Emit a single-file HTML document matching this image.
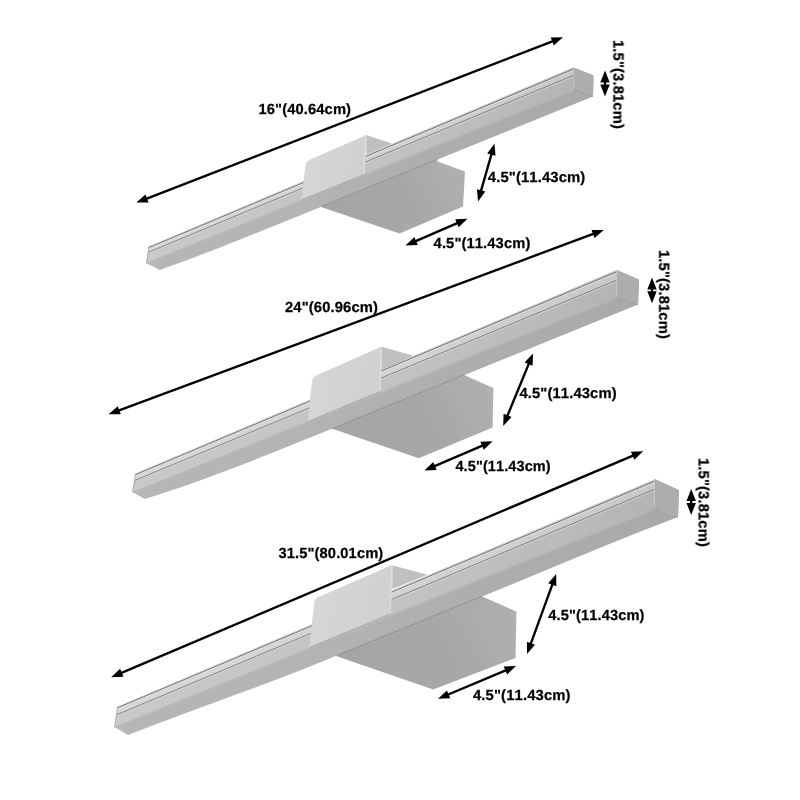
<!DOCTYPE html>
<html><head><meta charset="utf-8"><title>Dimensions</title>
<style>
html,body{margin:0;padding:0;background:#fff;}
body{width:800px;height:800px;overflow:hidden;}
svg{display:block;}
svg text{font-family:"Liberation Sans",Arial,Helvetica,sans-serif;font-weight:bold;fill:#000;stroke:#000;stroke-width:0.25px;font-kerning:none;text-rendering:geometricPrecision;}
#txt{opacity:0.999;}
</style></head><body>
<svg width="800" height="800" viewBox="0 0 800 800">
<defs><filter id="soft" x="-5%" y="-5%" width="110%" height="110%"><feGaussianBlur stdDeviation="0.45"/></filter></defs>
<rect width="800" height="800" fill="#fff"/>
<g id="lamp1" filter="url(#soft)">
<linearGradient id="bx0" gradientUnits="userSpaceOnUse" x1="341.0" y1="233.5" x2="465.0" y2="171.5"><stop offset="0" stop-color="#a5a5a5"/><stop offset="0.6" stop-color="#a8a8a8"/><stop offset="1" stop-color="#b0b0b0"/></linearGradient>
<polygon points="321.00,203.00 321.00,207.00 399.50,233.50 463.00,206.50 465.00,171.50 437.50,161.50 437.50,157.50" fill="url(#bx0)" />
<linearGradient id="gb0" gradientUnits="userSpaceOnUse" x1="148.9" y1="246.1" x2="573.5" y2="67.5"><stop offset="0" stop-color="#b6b6b6"/><stop offset="0.35" stop-color="#b3b3b3"/><stop offset="0.7" stop-color="#adadad"/><stop offset="1" stop-color="#a9a9a9"/></linearGradient>
<linearGradient id="gf0" gradientUnits="userSpaceOnUse" x1="148.9" y1="246.1" x2="573.5" y2="67.5"><stop offset="0" stop-color="#c9c9c9"/><stop offset="0.55" stop-color="#c2c2c2"/><stop offset="0.85" stop-color="#bababa"/><stop offset="1" stop-color="#b3b3b3"/></linearGradient>
<linearGradient id="gt0" gradientUnits="userSpaceOnUse" x1="148.9" y1="246.1" x2="573.5" y2="67.5"><stop offset="0" stop-color="#d8d8d8"/><stop offset="0.6" stop-color="#d2d2d2"/><stop offset="1" stop-color="#c8c8c8"/></linearGradient>
<path d="M146.25,263.00 L148.90,246.50 L573.50,67.50 L573.50,67.50 L593.50,75.50 L593.00,96.50 L381.20,182.42 Q240.00,239.70 224.00,245.94 L216.00,249.06 Q200.00,255.30 183.90,261.22 L159.75,270.10 Z" fill="url(#gb0)"/>
<polygon points="148.90,246.50 573.50,67.50 573.50,67.50 574.00,89.00 146.25,263.00" fill="url(#gf0)" />
<polygon points="146.25,263.00 574.00,89.00 574.00,91.00 146.75,264.60" fill="#bbbbbb" opacity="0.6"/>
<polyline points="322.00,206.14 436.50,159.69" fill="none" stroke="#8e8e8e" stroke-width="0.9" />
<polygon points="148.90,246.50 573.50,67.50 573.70,75.30 148.30,252.30" fill="url(#gt0)" />
<polyline points="148.70,247.70 573.60,69.10" fill="none" stroke="#707070" stroke-width="1.0" />
<polyline points="148.70,248.80 573.60,70.30" fill="none" stroke="#e0e0e0" stroke-width="0.9" />
<polyline points="148.30,252.30 573.70,75.30" fill="none" stroke="#787878" stroke-width="0.9" />
<polyline points="148.30,253.40 573.70,76.50" fill="none" stroke="#d2d2d2" stroke-width="0.9" />
<path d="M573.50,67.50 L591.70,74.70 L591.90,77.10 L593.50,77.90 L593.00,96.50 Q583.50,95.50 574.00,89.00 Z" fill="#adadad"/>
<polyline points="573.50,68.00 574.00,89.00" fill="none" stroke="#c8c8c8" stroke-width="0.9" />
<path d="M574.00,89.00 Q583.50,95.50 593.00,96.50" fill="none" stroke="#9c9c9c" stroke-width="0.8"/>
<polyline points="148.90,246.50 148.10,254.10 146.25,263.00" fill="none" stroke="#a0a0a0" stroke-width="0.7" />
<polygon points="366.00,135.00 392.00,143.50 366.50,154.50" fill="#c0c0c0" />
<linearGradient id="bk0" gradientUnits="userSpaceOnUse" x1="306.5" y1="161.5" x2="364.5" y2="174.0"><stop offset="0" stop-color="#d6d6d6"/><stop offset="1" stop-color="#d0d0d0"/></linearGradient>
<path d="M306.11,164.47 Q306.50,161.50 309.25,160.30 L366.00,135.50 L364.50,174.00 L301.50,199.50 Z" fill="url(#bk0)" stroke="#d4d4d4" stroke-width="0.8" stroke-linejoin="round"/>
<polyline points="365.40,136.00 363.90,174.00" fill="none" stroke="#dedede" stroke-width="1.0" />
<polyline points="301.80,199.90 364.50,174.40" fill="none" stroke="#a2a2a2" stroke-width="0.8" />
</g>
<g id="lamp2" filter="url(#soft)">
<linearGradient id="bx1" gradientUnits="userSpaceOnUse" x1="351.5" y1="458.2" x2="493.4" y2="388.0"><stop offset="0" stop-color="#a5a5a5"/><stop offset="0.6" stop-color="#a8a8a8"/><stop offset="1" stop-color="#b0b0b0"/></linearGradient>
<polygon points="331.50,424.50 331.50,428.50 418.80,458.20 492.60,427.50 493.40,388.00 465.00,375.50 465.00,371.50" fill="url(#bx1)" />
<linearGradient id="gb1" gradientUnits="userSpaceOnUse" x1="135.5" y1="473.0" x2="616.5" y2="270.0"><stop offset="0" stop-color="#b6b6b6"/><stop offset="0.35" stop-color="#b3b3b3"/><stop offset="0.7" stop-color="#adadad"/><stop offset="1" stop-color="#a9a9a9"/></linearGradient>
<linearGradient id="gf1" gradientUnits="userSpaceOnUse" x1="135.5" y1="473.0" x2="616.5" y2="270.0"><stop offset="0" stop-color="#c9c9c9"/><stop offset="0.55" stop-color="#c2c2c2"/><stop offset="0.85" stop-color="#bababa"/><stop offset="1" stop-color="#b3b3b3"/></linearGradient>
<linearGradient id="gt1" gradientUnits="userSpaceOnUse" x1="135.5" y1="473.0" x2="616.5" y2="270.0"><stop offset="0" stop-color="#d8d8d8"/><stop offset="0.6" stop-color="#d2d2d2"/><stop offset="1" stop-color="#c8c8c8"/></linearGradient>
<path d="M132.50,492.00 L135.50,473.60 L616.50,270.20 L616.50,270.00 L639.00,279.50 L638.00,304.50 L423.20,391.80 Q280.00,450.00 248.00,462.40 L232.00,468.60 Q200.00,481.00 178.00,488.20 L145.00,499.00 Z" fill="url(#gb1)"/>
<polygon points="135.50,473.60 616.50,270.20 616.50,270.00 616.50,297.00 132.50,492.00" fill="url(#gf1)" />
<polygon points="132.50,492.00 616.50,297.00 616.50,299.00 133.00,493.60" fill="#bbbbbb" opacity="0.6"/>
<polyline points="332.50,428.36 464.00,374.92" fill="none" stroke="#8e8e8e" stroke-width="0.9" />
<polygon points="135.50,473.60 616.50,270.20 616.70,280.20 134.90,480.40" fill="url(#gt1)" />
<polyline points="135.30,474.80 616.60,271.80" fill="none" stroke="#707070" stroke-width="1.0" />
<polyline points="135.30,475.90 616.60,273.00" fill="none" stroke="#e0e0e0" stroke-width="0.9" />
<polyline points="134.90,480.40 616.70,280.20" fill="none" stroke="#787878" stroke-width="0.9" />
<polyline points="134.90,481.50 616.70,281.40" fill="none" stroke="#d2d2d2" stroke-width="0.9" />
<path d="M616.50,270.00 L637.20,278.70 L637.40,281.10 L639.00,281.90 L638.00,304.50 Q627.25,303.50 616.50,297.00 Z" fill="#adadad"/>
<polyline points="616.50,270.50 616.50,297.00" fill="none" stroke="#c8c8c8" stroke-width="0.9" />
<path d="M616.50,297.00 Q627.25,303.50 638.00,304.50" fill="none" stroke="#9c9c9c" stroke-width="0.8"/>
<polyline points="135.50,473.60 134.70,481.00 132.50,492.00" fill="none" stroke="#a0a0a0" stroke-width="0.7" />
<polygon points="381.75,346.75 413.50,355.70 381.75,370.00" fill="#c0c0c0" />
<linearGradient id="bk1" gradientUnits="userSpaceOnUse" x1="312.8" y1="377.5" x2="380.2" y2="391.0"><stop offset="0" stop-color="#d6d6d6"/><stop offset="1" stop-color="#d0d0d0"/></linearGradient>
<path d="M312.44,380.48 Q312.75,377.50 315.49,376.28 L381.75,346.75 L380.25,391.00 L308.25,421.00 Z" fill="url(#bk1)" stroke="#d4d4d4" stroke-width="0.8" stroke-linejoin="round"/>
<polyline points="381.15,347.25 379.65,391.00" fill="none" stroke="#dedede" stroke-width="1.0" />
<polyline points="308.55,421.40 380.25,391.40" fill="none" stroke="#a2a2a2" stroke-width="0.8" />
</g>
<g id="lamp3" filter="url(#soft)">
<linearGradient id="bx2" gradientUnits="userSpaceOnUse" x1="356.0" y1="689.4" x2="516.4" y2="611.5"><stop offset="0" stop-color="#a5a5a5"/><stop offset="0.6" stop-color="#a8a8a8"/><stop offset="1" stop-color="#b0b0b0"/></linearGradient>
<polygon points="336.00,652.00 336.00,656.00 433.25,689.40 515.50,657.90 516.40,611.50 482.25,596.60 482.25,592.60" fill="url(#bx2)" />
<linearGradient id="gb2" gradientUnits="userSpaceOnUse" x1="117.5" y1="705.5" x2="654.5" y2="479.0"><stop offset="0" stop-color="#b6b6b6"/><stop offset="0.35" stop-color="#b3b3b3"/><stop offset="0.7" stop-color="#adadad"/><stop offset="1" stop-color="#a9a9a9"/></linearGradient>
<linearGradient id="gf2" gradientUnits="userSpaceOnUse" x1="117.5" y1="705.5" x2="654.5" y2="479.0"><stop offset="0" stop-color="#c9c9c9"/><stop offset="0.55" stop-color="#c2c2c2"/><stop offset="0.85" stop-color="#bababa"/><stop offset="1" stop-color="#b3b3b3"/></linearGradient>
<linearGradient id="gt2" gradientUnits="userSpaceOnUse" x1="117.5" y1="705.5" x2="654.5" y2="479.0"><stop offset="0" stop-color="#d8d8d8"/><stop offset="0.6" stop-color="#d2d2d2"/><stop offset="1" stop-color="#c8c8c8"/></linearGradient>
<path d="M114.50,727.00 L117.50,706.70 L654.50,479.70 L654.50,479.00 L679.00,490.00 L678.00,517.00 L643.20,530.50 Q620.00,539.50 564.90,562.34 L537.35,573.76 Q482.25,596.60 423.75,620.36 L394.50,632.24 Q336.00,656.00 313.60,665.00 L302.40,669.50 Q280.00,678.50 240.00,693.10 L220.00,700.40 Q180.00,715.00 159.20,723.00 L128.00,735.00 Z" fill="url(#gb2)"/>
<polygon points="117.50,706.70 654.50,479.70 654.50,479.00 654.50,508.00 114.50,727.00" fill="url(#gf2)" />
<polygon points="114.50,727.00 654.50,508.00 654.50,510.00 115.00,728.60" fill="#bbbbbb" opacity="0.6"/>
<polyline points="337.00,655.29 481.25,596.71" fill="none" stroke="#8e8e8e" stroke-width="0.9" />
<polygon points="117.50,706.70 654.50,479.70 654.70,489.20 116.90,714.70" fill="url(#gt2)" />
<polyline points="117.30,707.90 654.60,481.30" fill="none" stroke="#707070" stroke-width="1.0" />
<polyline points="117.30,709.00 654.60,482.50" fill="none" stroke="#e0e0e0" stroke-width="0.9" />
<polyline points="116.90,714.70 654.70,489.20" fill="none" stroke="#787878" stroke-width="0.9" />
<polyline points="116.90,715.80 654.70,490.40" fill="none" stroke="#d2d2d2" stroke-width="0.9" />
<path d="M654.50,479.00 L677.20,489.20 L677.40,491.60 L679.00,492.40 L678.00,517.00 Q666.25,516.00 654.50,508.00 Z" fill="#adadad"/>
<polyline points="654.50,479.50 654.50,508.00" fill="none" stroke="#c8c8c8" stroke-width="0.9" />
<path d="M654.50,508.00 Q666.25,516.00 678.00,517.00" fill="none" stroke="#9c9c9c" stroke-width="0.8"/>
<polyline points="117.50,706.70 116.70,713.50 114.50,727.00" fill="none" stroke="#a0a0a0" stroke-width="0.7" />
<polygon points="392.25,565.25 427.40,574.70 392.25,589.25" fill="#c0c0c0" />
<linearGradient id="bk2" gradientUnits="userSpaceOnUse" x1="315.0" y1="599.0" x2="390.8" y2="613.2"><stop offset="0" stop-color="#d6d6d6"/><stop offset="1" stop-color="#d0d0d0"/></linearGradient>
<path d="M314.67,601.98 Q315.00,599.00 317.75,597.80 L392.25,565.25 L390.75,613.25 L309.75,647.00 Z" fill="url(#bk2)" stroke="#d4d4d4" stroke-width="0.8" stroke-linejoin="round"/>
<polyline points="391.65,565.75 390.15,613.25" fill="none" stroke="#dedede" stroke-width="1.0" />
<polyline points="310.05,647.40 390.75,613.65" fill="none" stroke="#a2a2a2" stroke-width="0.8" />
</g>
<g id="arrows">
<line x1="144.88" y1="199.28" x2="554.42" y2="40.62" stroke="#000" stroke-width="2.35"/>
<polygon points="136.30,202.60 148.58,202.46 145.47,194.44" fill="#000" />
<polygon points="563.00,37.30 553.83,45.46 550.72,37.44" fill="#000" />
<line x1="480.52" y1="192.65" x2="491.98" y2="152.35" stroke="#000" stroke-width="2.35"/>
<polygon points="478.00,201.50 485.28,191.62 477.01,189.26" fill="#000" />
<polygon points="494.50,143.50 495.49,155.74 487.22,153.38" fill="#000" />
<line x1="413.95" y1="241.86" x2="459.05" y2="222.39" stroke="#000" stroke-width="2.35"/>
<polygon points="405.50,245.50 417.76,244.89 414.36,237.00" fill="#000" />
<polygon points="467.50,218.75 458.64,227.25 455.24,219.36" fill="#000" />
<line x1="605.00" y1="80.10" x2="605.00" y2="86.90" stroke="#000" stroke-width="2.35"/>
<polygon points="605.00,70.50 600.30,82.50 609.70,82.50" fill="#000" />
<polygon points="605.00,96.50 600.30,84.50 609.70,84.50" fill="#000" />
<line x1="117.12" y1="411.09" x2="595.18" y2="233.21" stroke="#000" stroke-width="2.35"/>
<polygon points="108.50,414.30 120.78,414.32 117.78,406.26" fill="#000" />
<polygon points="603.80,230.00 594.52,238.04 591.52,229.98" fill="#000" />
<line x1="506.70" y1="417.49" x2="529.50" y2="362.11" stroke="#000" stroke-width="2.35"/>
<polygon points="503.20,426.00 511.55,417.00 503.60,413.73" fill="#000" />
<polygon points="533.00,353.60 532.60,365.87 524.65,362.60" fill="#000" />
<line x1="432.86" y1="466.87" x2="484.14" y2="444.88" stroke="#000" stroke-width="2.35"/>
<polygon points="424.40,470.50 436.66,469.92 433.27,462.02" fill="#000" />
<polygon points="492.60,441.25 483.73,449.73 480.34,441.83" fill="#000" />
<line x1="652.00" y1="287.00" x2="652.00" y2="293.60" stroke="#000" stroke-width="2.35"/>
<polygon points="652.00,277.40 647.30,289.40 656.70,289.40" fill="#000" />
<polygon points="652.00,303.20 647.30,291.20 656.70,291.20" fill="#000" />
<line x1="119.67" y1="673.60" x2="634.73" y2="454.80" stroke="#000" stroke-width="2.35"/>
<polygon points="111.20,677.20 123.47,676.66 120.10,668.75" fill="#000" />
<polygon points="643.20,451.20 634.30,459.65 630.93,451.74" fill="#000" />
<line x1="530.15" y1="645.36" x2="553.05" y2="582.64" stroke="#000" stroke-width="2.35"/>
<polygon points="527.00,654.00 534.98,644.67 526.90,641.72" fill="#000" />
<polygon points="556.20,574.00 556.30,586.28 548.22,583.33" fill="#000" />
<line x1="446.48" y1="695.23" x2="507.52" y2="669.57" stroke="#000" stroke-width="2.35"/>
<polygon points="438.00,698.80 450.27,698.31 446.93,690.38" fill="#000" />
<polygon points="516.00,666.00 507.07,674.42 503.73,666.49" fill="#000" />
<line x1="691.20" y1="498.60" x2="691.20" y2="505.40" stroke="#000" stroke-width="2.35"/>
<polygon points="691.20,489.00 686.50,501.00 695.90,501.00" fill="#000" />
<polygon points="691.20,515.00 686.50,503.00 695.90,503.00" fill="#000" />
</g>
<g id="txt">
<text x="258.50" y="113.80" font-size="14.7" letter-spacing="0.13">16&quot;(40.64cm)</text>
<text font-size="14.7" letter-spacing="0.13" transform="translate(487.80 182.00) scale(1.008 1)">4.5&quot;(11.43cm)</text>
<text x="433.60" y="247.50" font-size="14.7" letter-spacing="0.13">4.5&quot;(11.43cm)</text>
<text font-size="14.7" letter-spacing="0.13" transform="translate(613.50 40.00) rotate(90) scale(1.005 1)">1.5&quot;(3.81cm)</text>
<text font-size="14.7" letter-spacing="0.13" transform="translate(285.00 311.70) scale(1.005 1)">24&quot;(60.96cm)</text>
<text font-size="14.7" letter-spacing="0.13" transform="translate(519.40 398.00) scale(1.005 1)">4.5&quot;(11.43cm)</text>
<text font-size="14.7" letter-spacing="0.13" transform="translate(455.40 471.30) scale(0.985 1)">4.5&quot;(11.43cm)</text>
<text font-size="14.7" letter-spacing="0.13" transform="translate(659.20 250.00) rotate(90) scale(1.005 1)">1.5&quot;(3.81cm)</text>
<text font-size="14.7" letter-spacing="0.13" transform="translate(278.50 558.40) scale(0.997 1)">31.5&quot;(80.01cm)</text>
<text font-size="14.7" letter-spacing="0.13" transform="translate(548.20 620.00) scale(0.995 1)">4.5&quot;(11.43cm)</text>
<text font-size="14.7" letter-spacing="0.13" transform="translate(473.00 700.00) scale(1.008 1)">4.5&quot;(11.43cm)</text>
<text font-size="14.7" letter-spacing="0.13" transform="translate(698.70 458.00) rotate(90) scale(1.005 1)">1.5&quot;(3.81cm)</text>
</g>
</svg>
</body></html>
